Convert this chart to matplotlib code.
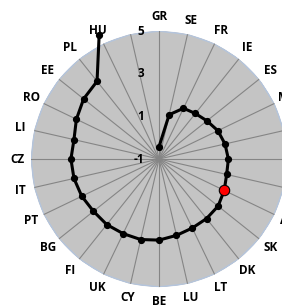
import numpy as np
import matplotlib
matplotlib.use('Agg')
import matplotlib.pyplot as plt

# categories clockwise from the top
countries = ['GR', 'SE', 'FR', 'IE', 'ES', 'MT', 'NL', 'DE', 'SI', 'AT',
             'SK', 'DK', 'LT', 'LU', 'BE', 'CY', 'UK', 'FI', 'BG', 'PT',
             'IT', 'CZ', 'LI', 'RO', 'EE', 'PL', 'HU', '']
values = [-0.42, 1.13, 1.64, 1.73, 1.87, 2.06, 2.17, 2.25, 2.25, 2.39,
          2.54, 2.57, 2.59, 2.67, 2.80, 2.87, 2.88, 2.93, 2.93, 3.02,
          3.09, 3.13, 3.09, 3.30, 3.52, 3.66, 5.47, np.nan]
highlight = 'AT'
r_ticks = [-1, 1, 3, 5]
r_min, r_max = -1, 5

n = len(countries)
theta = np.arange(n) * 2 * np.pi / n

fig = plt.figure(figsize=(2.82, 3.07), dpi=100)
ax = fig.add_axes([0.110, 0.065, 0.908, 0.834], projection='polar')
ax.set_theta_zero_location('N')
ax.set_theta_direction(-1)
ax.set_ylim(r_min, r_max)
ax.axis('off')

# polygon background
t_closed = np.append(theta, theta[0])
ax.fill(t_closed, [r_max] * (n + 1), color='#c4c4c4', zorder=1)
ax.plot(t_closed, [r_max] * (n + 1), color='#b4c4dc', lw=1.2, zorder=2)

# spokes
for t in theta:
    ax.plot([t, t], [r_min, r_max], color='#858585', lw=0.8, zorder=2)

# series
ax.plot(theta, values, color='black', lw=2.2, marker='o', ms=4.2,
        zorder=4, clip_on=False)
i = countries.index(highlight)
ax.plot(theta[i], values[i], marker='o', ms=7.5, color='red',
        markeredgecolor='black', markeredgewidth=0.8, zorder=5, clip_on=False)

font = dict(family=['Open Sans', 'DejaVu Sans'], fontweight='bold', fontsize=8.5)

# category labels
for t, c in zip(theta, countries):
    ax.text(t, 5.66, c, ha='center', va='center', **font)

# radial tick labels
for v in r_ticks:
    ax.annotate(str(v), xy=(0, v), xytext=(-11, 0), textcoords='offset points',
                ha='right', va='center', **font)

fig.savefig('out.png', dpi=100)
